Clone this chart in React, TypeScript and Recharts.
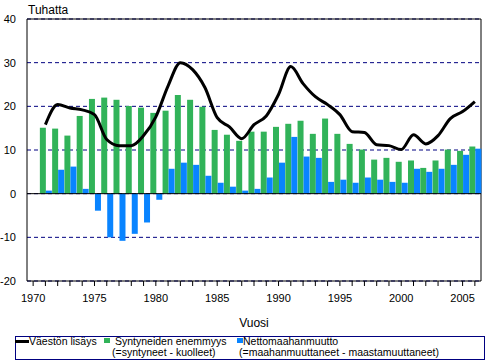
import { Bar, ComposedChart, Line, XAxis, YAxis, CartesianGrid, ReferenceLine, ReferenceArea, Legend, Label } from "recharts"

const years = [
  1970, 1971, 1972, 1973, 1974, 1975, 1976, 1977, 1978, 1979,
  1980, 1981, 1982, 1983, 1984, 1985, 1986, 1987, 1988, 1989,
  1990, 1991, 1992, 1993, 1994, 1995, 1996, 1997, 1998, 1999,
  2000, 2001, 2002, 2003, 2004, 2005, 2006,
]

// Syntyneiden enemmyys
const naturalIncrease = [
  null, 15.1, 14.9, 13.3, 17.8, 21.7, 22.0, 21.5, 20.1, 19.7,
  18.5, 19.0, 22.6, 21.5, 19.9, 14.6, 13.5, 12.1, 14.2, 14.2,
  15.3, 16.0, 16.7, 13.7, 17.2, 13.7, 11.4, 10.1, 7.8, 8.2,
  7.3, 7.6, 5.9, 7.6, 10.1, 9.8, 10.8,
]

// Nettomaahanmuutto
const netMigration = [
  null, 0.7, 5.5, 6.2, 1.1, -3.9, -10.0, -10.8, -9.2, -6.6,
  -1.4, 5.7, 7.1, 6.6, 4.1, 2.5, 1.6, 0.7, 1.1, 3.7,
  7.1, 13.0, 8.5, 8.2, 2.7, 3.2, 2.5, 3.7, 3.2, 2.7,
  2.5, 5.7, 5.0, 5.7, 6.6, 8.9, 10.3,
]

// Väestön lisäys
const popIncrease = [
  null, 15.8, 20.4, 19.6, 19.2, 18.1, 12.4, 11.0, 11.0, 13.3,
  17.6, 24.7, 30.0, 28.4, 24.3, 17.4, 15.3, 12.6, 15.8, 17.8,
  22.7, 29.1, 25.2, 22.2, 20.4, 18.1, 14.2, 14.0, 11.2, 11.0,
  10.1, 13.5, 11.4, 13.3, 17.2, 18.8, 21.1,
]

const yTicks = [-20, -10, 0, 10, 20, 30, 40]

const GREEN = "#31b359"
const BLUE = "#0984ff"
const FONT = "'Liberation Sans', Arial, sans-serif"

const data = years.map((year, i) => ({
  year,
  synt: naturalIncrease[i],
  netto: netMigration[i],
  lisays: popIncrease[i],
}))

const txt = (left: number, top: number, s: string) => (
  <span style={{ position: "absolute", left, top, fontSize: 10.5, lineHeight: "10px", whiteSpace: "nowrap" }}>{s}</span>
)

function LegendBox() {
  return (
    <div
      style={{
        position: "relative",
        width: 470,
        height: 24,
        boxSizing: "border-box",
        border: "1px solid #000080",
        fontFamily: FONT,
        color: "#000",
        background: "#fff",
      }}
    >
      <span style={{ position: "absolute", left: -1, top: 3, width: 14, height: 3, background: "#000" }} />
      {txt(13, -1, "Väestön lisäys")}
      <span style={{ position: "absolute", left: 88, top: 1, width: 6, height: 5, background: GREEN }} />
      {txt(99, -1, "Syntyneiden enemmyys")}
      {txt(96, 10, "(=syntyneet - kuolleet)")}
      <span style={{ position: "absolute", left: 221, top: 1, width: 6, height: 5, background: BLUE }} />
      {txt(227, -1, "Nettomaahanmuutto")}
      {txt(223, 10, "(=maahanmuuttaneet - maastamuuttaneet)")}
    </div>
  )
}

export default function App() {
  return (
    <div style={{ position: "absolute", left: 0, top: 0, width: 486, height: 361, background: "#fff" }}>
      <ComposedChart
        width={486}
        height={361}
        data={data}
        margin={{ top: 19, right: 5, left: 0, bottom: 0 }}
        barCategoryGap={0.6}
        barGap={0}
        style={{ fontFamily: FONT }}
      >
        <CartesianGrid vertical={false} stroke="#000080" strokeDasharray="4 3" />
        <ReferenceArea y1={-20} y2={40} stroke="#000" strokeWidth={1} fill="none" fillOpacity={0} />
        <XAxis
          dataKey="year"
          interval={0}
          height={80}
          axisLine={false}
          tickLine={{ stroke: "#000" }}
          tickSize={5}
          tickMargin={8}
          tick={{ fill: "#000", fontSize: 11 }}
          tickFormatter={(v) => (v % 5 === 0 ? String(v) : "")}
        >
          <Label value="Vuosi" position="insideBottom" offset={34} fill="#000" fontSize={12} />
        </XAxis>
        <YAxis
          width={27}
          domain={[-20, 40]}
          ticks={yTicks}
          axisLine={false}
          tickLine={false}
          tickMargin={5}
          tick={{ fill: "#000", fontSize: 11 }}
        >
          <Label
            content={() => (
              <text x={28} y={14} fontSize={12} fill="#000">
                Tuhatta
              </text>
            )}
          />
        </YAxis>
        <ReferenceLine y={0} stroke="#000" strokeWidth={1} />
        <Bar dataKey="synt" fill={GREEN} isAnimationActive={false} />
        <Bar dataKey="netto" fill={BLUE} isAnimationActive={false} />
        <Line
          type="monotone"
          dataKey="lisays"
          stroke="#000"
          strokeWidth={3}
          dot={false}
          isAnimationActive={false}
        />
        <Legend
          layout="vertical"
          align="center"
          verticalAlign="middle"
          content={() => <LegendBox />}
          wrapperStyle={{ position: "absolute", left: 15, top: 336, width: 470, height: 24 }}
        />
      </ComposedChart>
    </div>
  )
}
